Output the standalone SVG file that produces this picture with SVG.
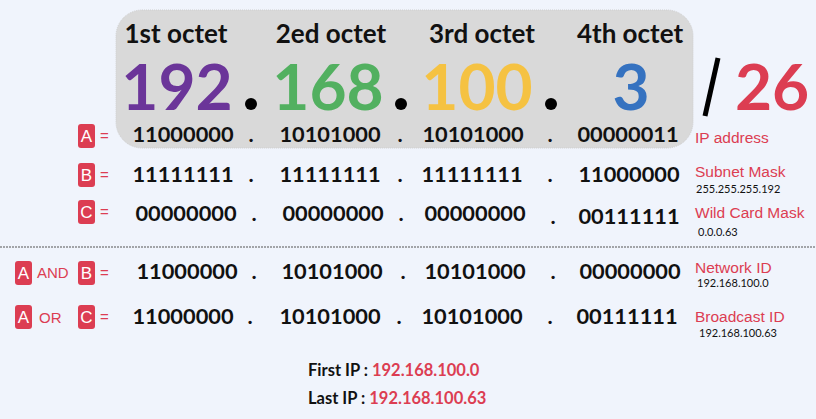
<svg xmlns="http://www.w3.org/2000/svg" width="816" height="419" viewBox="0 0 816 419">
<style>
.hd{font-family:Lato,"Noto Sans",sans-serif;font-weight:bold;font-size:26px;fill:#111;text-anchor:middle}
.big{font-family:Lato,"Noto Sans",sans-serif;font-weight:bold;font-size:64px;text-anchor:middle}
.bin{font-family:Lato,"Noto Sans",sans-serif;font-weight:bold;font-size:21.8px;fill:#111;text-anchor:middle}
.lbl{font-family:"Liberation Sans",Arial,sans-serif;font-size:15.5px;fill:#dc3d52}
.sm{font-family:Lato,"Noto Sans",sans-serif;font-size:11px;fill:#111}
.bx{fill:#dc3d52}
.bt{font-family:"Liberation Sans",Arial,sans-serif;font-size:17px;fill:#fff;text-anchor:middle}
.op{font-family:"Liberation Sans",Arial,sans-serif;font-size:15px;fill:#dc3d52}
.ip{font-family:Lato,"Noto Sans",sans-serif;font-weight:bold;font-size:16.5px}
</style>
<rect width="816" height="419" fill="#f0f4fc"/>
<g id="octet-box">
<rect x="116" y="10" width="577" height="138" rx="26" fill="#d9d9d9" stroke="#cfcfcf" stroke-dasharray="1 1"/>
<text class="hd" x="176" y="43">1st octet</text>
<text class="hd" x="331" y="43">2ed octet</text>
<text class="hd" x="482" y="43">3rd octet</text>
<text class="hd" x="630" y="43">4th octet</text>
<text class="big" x="177" y="110" fill="#6b3599">192</text>
<text class="big" x="328" y="110" fill="#52b060">168</text>
<text class="big" x="477" y="110" fill="#f5c242">100</text>
<text class="big" x="631" y="110" fill="#3572c0">3</text>
<circle cx="251" cy="104" r="6" fill="#000"/>
<circle cx="401" cy="104" r="6" fill="#000"/>
<circle cx="551" cy="104" r="6" fill="#000"/>
</g>
<g id="mask">
<line x1="718" y1="58" x2="705" y2="116" stroke="#000" stroke-width="5"/>
<text class="big" x="772" y="110" fill="#dc3d52">26</text>
</g>
<g id="row-a">
<rect class="bx" x="78" y="124" width="17" height="24" rx="3"/><text class="bt" x="86.5" y="142">A</text>
<text class="op" x="100" y="141">=</text>
<text class="bin" x="183" y="142">11000000</text><text class="bin" x="251" y="142">.</text>
<text class="bin" x="330" y="142">10101000</text><text class="bin" x="400" y="142">.</text>
<text class="bin" x="473" y="142">10101000</text><text class="bin" x="550" y="142">.</text>
<text class="bin" x="628" y="142">00000011</text>
<text class="lbl" x="695" y="143">IP address</text>
</g>
<g id="row-b">
<rect class="bx" x="78" y="163" width="17" height="24" rx="3"/><text class="bt" x="86.5" y="181">B</text>
<text class="op" x="100" y="180">=</text>
<text class="bin" x="183" y="182">11111111</text><text class="bin" x="251" y="182">.</text>
<text class="bin" x="330" y="182">11111111</text><text class="bin" x="400" y="182">.</text>
<text class="bin" x="472" y="182">11111111</text><text class="bin" x="550" y="182">.</text>
<text class="bin" x="629" y="182">11000000</text>
<text class="lbl" x="695" y="177">Subnet Mask</text>
<text class="sm" x="696" y="193">255.255.255.192</text>
</g>
<g id="row-c">
<rect class="bx" x="78" y="200" width="17" height="24" rx="3"/><text class="bt" x="86.5" y="218">C</text>
<text class="op" x="100" y="217">=</text>
<text class="bin" x="186" y="221">00000000</text><text class="bin" x="254" y="221">.</text>
<text class="bin" x="333" y="221">00000000</text><text class="bin" x="401" y="221">.</text>
<text class="bin" x="475" y="221">00000000</text><text class="bin" x="553" y="224">.</text>
<text class="bin" x="629" y="224">00111111</text>
<text class="lbl" x="695" y="218">Wild Card Mask</text>
<text class="sm" x="698" y="236">0.0.0.63</text>
</g>
<g id="connectors">
<line x1="0" y1="247" x2="816" y2="247" stroke="#555" stroke-width="1" stroke-dasharray="2 1"/>
</g>
<g id="row-and">
<rect class="bx" x="15" y="261" width="17" height="24" rx="3"/><text class="bt" x="23.5" y="279">A</text>
<text class="op" x="37" y="278">AND</text>
<rect class="bx" x="78" y="261" width="17" height="24" rx="3"/><text class="bt" x="86.5" y="279">B</text>
<text class="op" x="100" y="278">=</text>
<text class="bin" x="187" y="279">11000000</text><text class="bin" x="254" y="279">.</text>
<text class="bin" x="332" y="279">10101000</text><text class="bin" x="403" y="279">.</text>
<text class="bin" x="475" y="279">10101000</text><text class="bin" x="553" y="279">.</text>
<text class="bin" x="630" y="279">00000000</text>
<text class="lbl" x="695" y="273">Network ID</text>
<text class="sm" x="697" y="287">192.168.100.0</text>
</g>
<g id="row-or">
<rect class="bx" x="15" y="305" width="17" height="24" rx="3"/><text class="bt" x="23.5" y="323">A</text>
<text class="op" x="39" y="323">OR</text>
<rect class="bx" x="78" y="305" width="17" height="24" rx="3"/><text class="bt" x="86.5" y="323">C</text>
<text class="op" x="100" y="322">=</text>
<text class="bin" x="183" y="324">11000000</text><text class="bin" x="250" y="324">.</text>
<text class="bin" x="330" y="324">10101000</text><text class="bin" x="399" y="324">.</text>
<text class="bin" x="472" y="324">10101000</text><text class="bin" x="550" y="324">.</text>
<text class="bin" x="627" y="324">00111111</text>
<text class="lbl" x="695" y="322">Broadcast ID</text>
<text class="sm" x="699" y="337">192.168.100.63</text>
</g>
<g id="range">
<text class="ip" x="308" y="376" fill="#111">First IP : <tspan fill="#dc3d52">192.168.100.0</tspan></text>
<text class="ip" x="308" y="404" fill="#111">Last IP : <tspan fill="#dc3d52">192.168.100.63</tspan></text>
</g>
</svg>
